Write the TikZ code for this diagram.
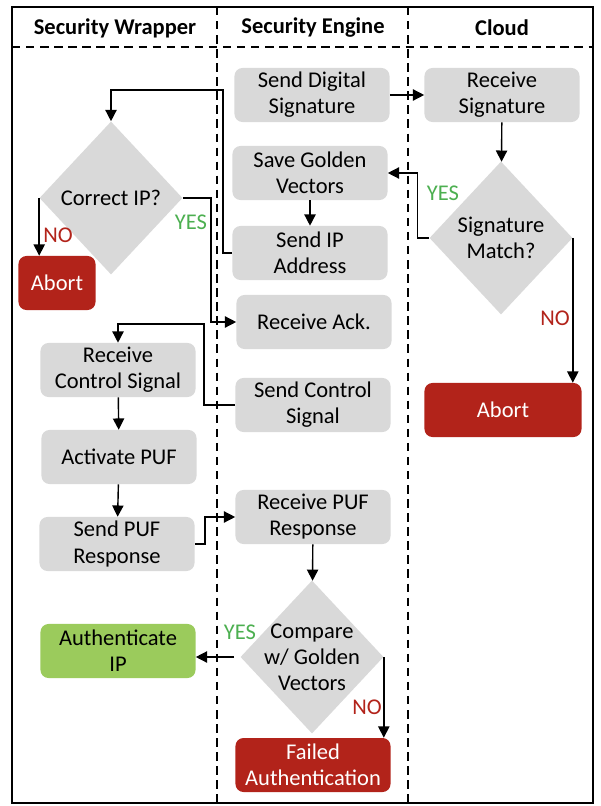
\documentclass[tikz,border=0pt]{standalone}
\usepackage{fontspec}
\setmainfont{Carlito}
\usetikzlibrary{arrows.meta,shapes.geometric}

\definecolor{boxgray}{RGB}{217,217,217}
\definecolor{abortred}{RGB}{178,35,26}
\definecolor{okgreen}{RGB}{155,203,92}
\definecolor{yesgreen}{RGB}{76,175,80}

\begin{document}
\begin{tikzpicture}[x=0.025cm, y=-0.025cm, >={Triangle[length=8pt,width=8pt]}, line join=miter,
  txt/.style={font=\fontsize{16}{18.5}\selectfont},
  proc/.style={txt, rounded corners=0.2cm, fill=boxgray, minimum width=3.875cm, minimum height=1.35cm, align=center, inner sep=0pt},
  stopbox/.style={proc, fill=abortred, text=white},
  decision/.style={diamond, fill=boxgray, minimum width=3.575cm, minimum height=3.825cm, inner sep=0pt},
  flow/.style={->, line width=1pt},
  yes/.style={txt, text=yesgreen},
  no/.style={txt, text=abortred},
  head/.style={font=\fontsize{16}{18.5}\selectfont\bfseries},
  lane/.style={line width=1.1pt, dash pattern=on 6pt off 4pt}]

\useasboundingbox (0,0) rectangle (600,806);

\draw[line width=1.2pt] (12,7) rectangle (593,803);
\draw[lane] (12,47) -- (593,47);
\draw[lane] (217,7) -- (217,803);
\draw[lane] (408,7) -- (408,803);

\node[head] (hwrap) at (115,28) {Security Wrapper};
\node[head] (heng) at (313,28) {Security Engine};
\node[head] (hcloud) at (502,28) {Cloud};

\node[proc] (sds) at (312,95) {Send Digital\\Signature};
\node[proc] (rsig) at (502,95) {Receive\\Signature};
\node[decision, label={[txt, align=center]center:Signature\\Match?}] (smatch) at (501,238) {};
\node[stopbox, minimum width=3.925cm] (abcloud) at (503,410) {Abort};
\node[proc] (sgv) at (310,173) {Save Golden\\Vectors};
\node[proc] (sip) at (310,253) {Send IP\\Address};
\node[decision, label={[txt, align=center]center:Correct IP?}] (cip) at (111,198) {};
\node[stopbox, minimum width=1.925cm] (abwrap) at (57,283) {Abort};
\node[proc] (ack) at (314,322) {Receive Ack.};
\node[proc] (scs) at (313,405) {Send Control\\Signal};
\node[proc] (rcs) at (118,370) {Receive\\Control Signal};
\node[proc] (apuf) at (119,457) {Activate PUF};
\node[proc] (spr) at (117,544) {Send PUF\\Response};
\node[proc] (rpr) at (313,517) {Receive PUF\\Response};
\node[decision, label={[txt, align=center]center:Compare\\w/ Golden\\Vectors}] (cmp) at (312,657) {};
\node[proc, fill=okgreen] (auth) at (118,651) {Authenticate\\IP};
\node[stopbox] (fail) at (313,765) {Failed\\Authentication};

\coordinate (ipturn) at (223,90);
\coordinate (ctlturn) at (204,324);

\draw[flow] (sds) -- (rsig);
\draw[flow] (rsig) -- (smatch);
\draw[flow] (smatch.west) -- ++(-12,0) |- (sgv.east);
\draw[flow] (smatch.east) -- (smatch.east |- abcloud.north);
\draw[flow] (sgv) -- (sip);
\draw[flow] (sip.west) -| (ipturn) -| (cip.north);
\draw[flow] (cip.west) -- (cip.west |- abwrap.north);
\draw[flow] (cip.east) -- ++(28,0) |- (ack.west);
\draw[flow] (scs.west) -| (ctlturn) -| (rcs.north);
\draw[flow] (rcs) -- (apuf);
\draw[flow] (apuf) -- (spr);
\draw[flow] (spr.east) -- ++(10,0) |- (rpr.west);
\draw[flow] (rpr) -- (cmp);
\draw[flow] ([xshift=-0.15cm]cmp.west) -- (auth.east |- cmp.west);
\draw[flow] (cmp.east) -- (cmp.east |- fail.north);

\node[yes] (yessig) at (443,193) {YES};
\node[no] (nosig) at (555,318) {NO};
\node[yes] (yesip) at (191,222) {YES};
\node[no] (noip) at (58,235) {NO};
\node[yes] (yescmp) at (240,632) {YES};
\node[no] (nocmp) at (367,707) {NO};

\end{tikzpicture}
\end{document}
